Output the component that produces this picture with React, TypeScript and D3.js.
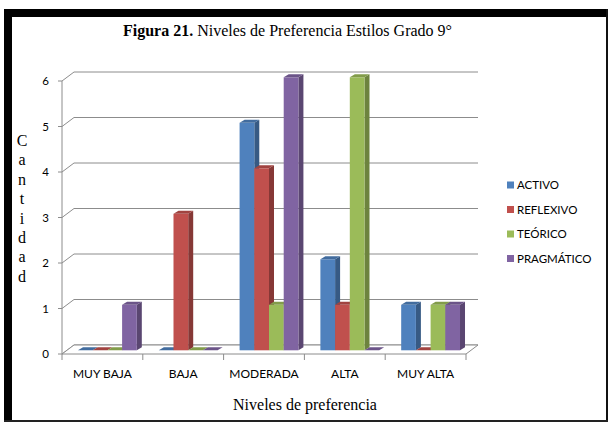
import React from "react";
import * as d3 from "d3";

const categories = ["MUY BAJA", "BAJA", "MODERADA", "ALTA", "MUY ALTA"];
const seriesNames = ["ACTIVO", "REFLEXIVO", "TEÓRICO", "PRAGMÁTICO"];
const activo = [0, 0, 5, 2, 1];
const reflexivo = [0, 3, 4, 1, 0];
const teorico = [0, 0, 1, 6, 1];
const pragmatico = [1, 0, 6, 0, 1];
const seriesValues = [activo, reflexivo, teorico, pragmatico];
const seriesColors = ["#4F81BD", "#C0504D", "#9BBB59", "#8064A2"];
const yTicks = [0, 1, 2, 3, 4, 5, 6];
const yLabelLetters = ["C", "a", "n", "t", "i", "d", "a", "d"];

const W = 609;
const H = 423;

export default function App() {
  // plot geometry (front plane of the 3D box)
  const left = 62;
  const right = 466;
  const depthX = 12;
  const depthY = -9;
  // columns sit partway into the box
  const barShiftX = 5;
  const barShiftY = -3.7;
  const barDepthX = 5;
  const barDepthY = -3;

  const y = d3.scaleLinear().domain([0, 6]).range([354, 81]);
  const x0 = d3.scaleBand<string>().domain(categories).range([left, right]);
  const groupW = x0.bandwidth() * 0.728;
  const x1 = d3.scaleBand<string>().domain(seriesNames).range([0, groupW]);
  const gap = (x0.bandwidth() - groupW) / 2;

  const gridColor = "#8c8c8c";
  const sans = "Lato, 'Open Sans', sans-serif";
  const serif = "'Liberation Serif', 'DejaVu Serif', serif";

  const bars: React.ReactNode[] = [];
  categories.forEach((c, ci) => {
    seriesNames.forEach((s, si) => {
      const v = seriesValues[si][ci];
      const col = d3.color(seriesColors[si])!;
      const xl = (x0(c) as number) + gap + barShiftX + (x1(s) as number);
      const xr = xl + x1.bandwidth();
      const yb = y(0) + barShiftY;
      const yt = y(v) + barShiftY;
      const top = `${xl},${yt} ${xr},${yt} ${xr + barDepthX},${yt + barDepthY} ${xl + barDepthX},${yt + barDepthY}`;
      const side = `${xr},${yt} ${xr + barDepthX},${yt + barDepthY} ${xr + barDepthX},${yb + barDepthY} ${xr},${yb}`;
      bars.push(
        <g key={`${c}-${s}`}>
          <polygon points={side} fill={col.darker(1).toString()} />
          {v > 0 && (
            <rect x={xl} y={yt} width={xr - xl} height={yb - yt} fill={seriesColors[si]} />
          )}
          <polygon points={top} fill={col.darker(0.5).toString()} />
        </g>
      );
    });
  });

  return (
    <svg
      width={W}
      height={H}
      style={{ position: "absolute", left: 0, top: 0, background: "#fff" }}
      xmlns="http://www.w3.org/2000/svg"
    >
      <rect x={0} y={0} width={W} height={H} fill="#fff" />

      {/* frame */}
      <rect x={4} y={9} width={604} height={8} fill="#000" />
      <rect x={4} y={9} width={8} height={413} fill="#000" />
      <rect x={606} y={9} width={2} height={413} fill="#111" />
      <rect x={4} y={420} width={604} height={2} fill="#222" />

      {/* title */}
      <text x={287.5} y={36} textAnchor="middle" fontFamily={serif} fontSize={16} fill="#000">
        <tspan fontWeight="bold">Figura 21.</tspan>
        <tspan> Niveles de Preferencia Estilos Grado 9°</tspan>
      </text>

      {/* gridlines with left wall diagonals */}
      {yTicks.map((t) => (
        <g key={`g${t}`}>
          <polyline
            points={`${left},${y(t)} ${left + depthX},${y(t) + depthY} ${right + depthX},${y(t) + depthY}`}
            fill="none"
            stroke={gridColor}
            strokeWidth={1}
          />
          <line x1={left - 4} x2={left} y1={y(t)} y2={y(t)} stroke={gridColor} />
          <text x={49} y={y(t) + 4} textAnchor="end" fontFamily={sans} fontSize={11.5} fill="#000">
            {t}
          </text>
        </g>
      ))}
      <line x1={left} x2={left} y1={y(0)} y2={y(6)} stroke={gridColor} />

      {/* floor */}
      <polygon
        points={`${left},${y(0)} ${right},${y(0)} ${right + depthX},${y(0) + depthY} ${left + depthX},${y(0) + depthY}`}
        fill="#fff"
        stroke={gridColor}
      />

      {/* category ticks and labels */}
      {[...categories.map((c) => x0(c) as number), right].map((xv, i) => (
        <line key={`xt${i}`} x1={xv} x2={xv} y1={y(0)} y2={y(0) + 6} stroke={gridColor} />
      ))}
      {categories.map((c) => (
        <text
          key={`xl${c}`}
          x={(x0(c) as number) + x0.bandwidth() / 2}
          y={378}
          textAnchor="middle"
          fontFamily={sans}
          fontSize={12}
          fill="#000"
        >
          {c}
        </text>
      ))}

      {bars}

      {/* axis titles */}
      {yLabelLetters.map((ch, i) => (
        <text key={`yl${i}`} x={22} y={146 + i * 19.4} textAnchor="middle" fontFamily={serif} fontSize={16} fill="#000">
          {ch}
        </text>
      ))}
      <text x={305} y={410} textAnchor="middle" fontFamily={serif} fontSize={16} fill="#000">
        Niveles de preferencia
      </text>

      {/* legend */}
      {seriesNames.map((s, i) => (
        <g key={`lg${s}`} transform={`translate(507, ${185 + i * 24.5})`}>
          <rect x={0} y={-3.5} width={7} height={7} fill={seriesColors[i]} />
          <text x={10} y={4} fontFamily={sans} fontSize={11.5} fill="#000">
            {s}
          </text>
        </g>
      ))}
    </svg>
  );
}
